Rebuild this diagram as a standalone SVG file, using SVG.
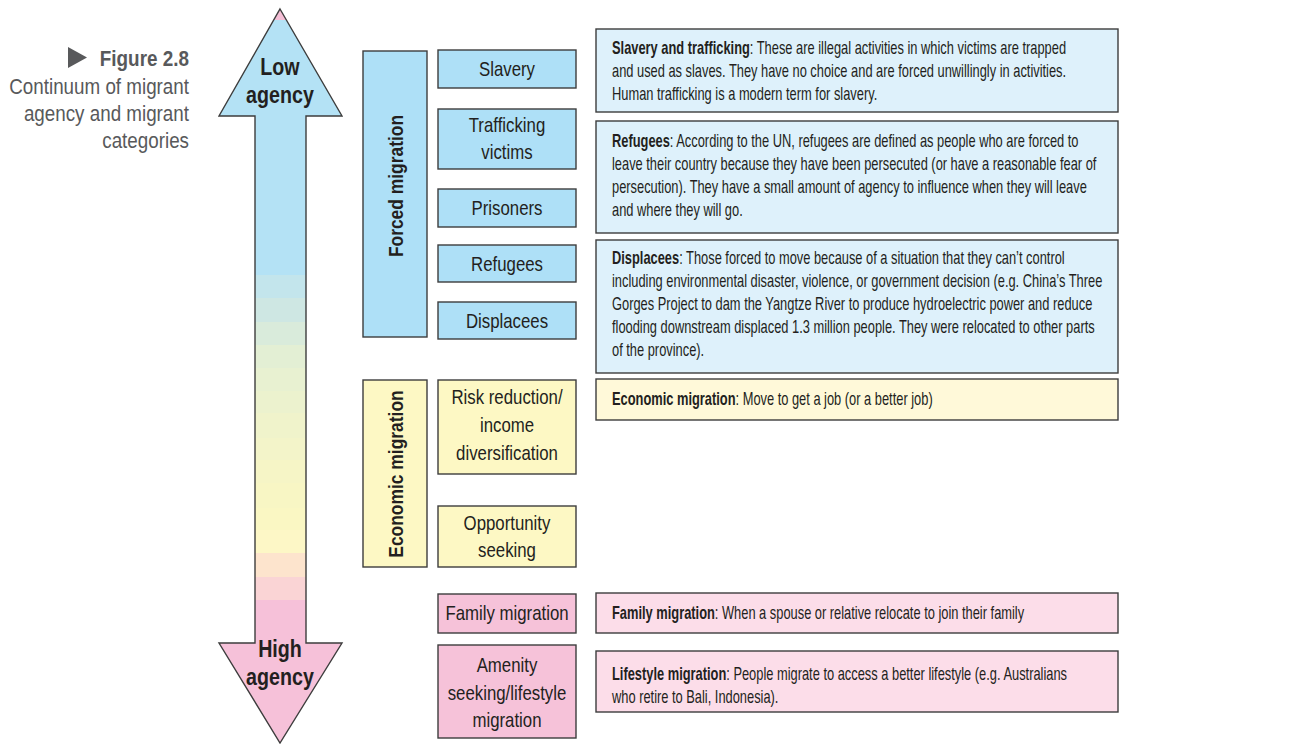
<svg xmlns="http://www.w3.org/2000/svg" width="1289" height="744" viewBox="0 0 1289 744">
<defs>
<style>
text{font-family:"Liberation Sans",Arial,sans-serif;fill:#231f20}
.cap{fill:#58595b;font-size:22px;text-anchor:end}
.capb{fill:#58595b;font-size:22.5px;font-weight:bold;text-anchor:end}
.box{stroke:#3d3d3d;stroke-width:1.4}
.bl{fill:#aee0f7}
.ye{fill:#fdf8c4}
.pk{fill:#f6c2d9}
.dbl{fill:#def1fb}
.dye{fill:#fff9d9}
.dpk{fill:#fcdde9}
.lbl{font-size:20.5px;text-anchor:middle}
.vt{font-size:21px;font-weight:bold;text-anchor:middle}
.ag{font-size:24px;font-weight:bold;text-anchor:middle}
.ds{font-size:17.5px}
.b{font-weight:bold}
</style>
<clipPath id="arrowClip">
<polygon points="280,9 342,116 306,116 306,643 342,643 280,743 219,643 255,643 255,116 219,116"/>
</clipPath>
</defs>

<g id="caption">
<polygon points="68,47 87,57.5 68,68" fill="#58595b"/>
<text class="capb" transform="matrix(0.84 0 0 1 189 66)">Figure 2.8</text>
<text class="cap" transform="matrix(0.855 0 0 1 189 94)">Continuum of migrant</text>
<text class="cap" transform="matrix(0.855 0 0 1 189 121)">agency and migrant</text>
<text class="cap" transform="matrix(0.855 0 0 1 189 148)">categories</text>
</g>

<g id="agency-arrow">
<g clip-path="url(#arrowClip)">
<rect x="200" y="0" width="160" height="20" fill="#f5bfd6"/>
<rect x="200" y="20" width="160" height="255" fill="#b4e2f5"/>
<rect x="200" y="275" width="160" height="23" fill="#c3e5ec"/>
<rect x="200" y="298" width="160" height="24" fill="#cee7e3"/>
<rect x="200" y="322" width="160" height="23" fill="#d9ebdb"/>
<rect x="200" y="345" width="160" height="23" fill="#e3efd4"/>
<rect x="200" y="368" width="160" height="23" fill="#e8f1d1"/>
<rect x="200" y="391" width="160" height="22" fill="#ecf2ce"/>
<rect x="200" y="413" width="160" height="25" fill="#f0f3cb"/>
<rect x="200" y="438" width="160" height="22" fill="#f3f4c9"/>
<rect x="200" y="460" width="160" height="23" fill="#f6f5c6"/>
<rect x="200" y="483" width="160" height="25" fill="#f8f6c4"/>
<rect x="200" y="508" width="160" height="22" fill="#faf7c3"/>
<rect x="200" y="530" width="160" height="23" fill="#fdf7c6"/>
<rect x="200" y="553" width="160" height="24" fill="#fde4cd"/>
<rect x="200" y="577" width="160" height="23" fill="#fad4d5"/>
<rect x="200" y="600" width="160" height="144" fill="#f6c1d9"/>
</g>
<polygon points="280,9 342,116 306,116 306,643 342,643 280,743 219,643 255,643 255,116 219,116" fill="none" stroke="#3d3d3d" stroke-width="1.4"/>
<text class="ag" transform="matrix(0.82 0 0 1 280 75)">Low</text>
<text class="ag" transform="matrix(0.82 0 0 1 280 103)">agency</text>
<text class="ag" transform="matrix(0.82 0 0 1 280 657)">High</text>
<text class="ag" transform="matrix(0.82 0 0 1 280 685)">agency</text>
</g>

<g id="forced-migration">
<rect class="box bl" x="363" y="51" width="64" height="286"/>
<text class="vt" transform="matrix(0 -0.83 1 0 403 186)">Forced migration</text>
</g>
<g id="economic-migration">
<rect class="box ye" x="363" y="380" width="64" height="187"/>
<text class="vt" transform="matrix(0 -0.83 1 0 403 474)">Economic migration</text>
</g>

<g id="slavery">
<rect class="box bl" x="438" y="50" width="138" height="38"/>
<text class="lbl" transform="matrix(0.82 0 0 1 507 76)">Slavery</text>
</g>
<g id="trafficking">
<rect class="box bl" x="438" y="109" width="138" height="60"/>
<text class="lbl" transform="matrix(0.82 0 0 1 507 132)">Trafficking</text>
<text class="lbl" transform="matrix(0.82 0 0 1 507 159)">victims</text>
</g>
<g id="prisoners">
<rect class="box bl" x="438" y="189" width="138" height="38"/>
<text class="lbl" transform="matrix(0.82 0 0 1 507 215)">Prisoners</text>
</g>
<g id="refugees">
<rect class="box bl" x="438" y="245" width="138" height="37"/>
<text class="lbl" transform="matrix(0.82 0 0 1 507 271)">Refugees</text>
</g>
<g id="displacees">
<rect class="box bl" x="438" y="302" width="138" height="37"/>
<text class="lbl" transform="matrix(0.82 0 0 1 507 328)">Displacees</text>
</g>
<g id="risk-reduction">
<rect class="box ye" x="438" y="380" width="138" height="94"/>
<text class="lbl" transform="matrix(0.82 0 0 1 507 404)">Risk reduction/</text>
<text class="lbl" transform="matrix(0.82 0 0 1 507 432)">income</text>
<text class="lbl" transform="matrix(0.82 0 0 1 507 460)">diversification</text>
</g>
<g id="opportunity">
<rect class="box ye" x="438" y="506" width="138" height="61"/>
<text class="lbl" transform="matrix(0.82 0 0 1 507 530)">Opportunity</text>
<text class="lbl" transform="matrix(0.82 0 0 1 507 557)">seeking</text>
</g>
<g id="family">
<rect class="box pk" x="438" y="594" width="138" height="39"/>
<text class="lbl" transform="matrix(0.82 0 0 1 507 620)">Family migration</text>
</g>
<g id="amenity">
<rect class="box pk" x="438" y="645" width="138" height="93"/>
<text class="lbl" transform="matrix(0.82 0 0 1 507 672)">Amenity</text>
<text class="lbl" transform="matrix(0.82 0 0 1 507 700)">seeking/lifestyle</text>
<text class="lbl" transform="matrix(0.82 0 0 1 507 727)">migration</text>
</g>

<g id="desc-slavery">
<rect class="box dbl" x="596" y="29" width="522" height="83"/>
<text class="ds" transform="matrix(0.735 0 0 1 612 54)"><tspan class="b">Slavery and trafficking</tspan>: These are illegal activities in which victims are trapped</text>
<text class="ds" transform="matrix(0.735 0 0 1 612 77)">and used as slaves. They have no choice and are forced unwillingly in activities.</text>
<text class="ds" transform="matrix(0.735 0 0 1 612 100)">Human trafficking is a modern term for slavery.</text>
</g>
<g id="desc-refugees">
<rect class="box dbl" x="596" y="121" width="522" height="112"/>
<text class="ds" transform="matrix(0.735 0 0 1 612 147)"><tspan class="b">Refugees</tspan>: According to the UN, refugees are defined as people who are forced to</text>
<text class="ds" transform="matrix(0.735 0 0 1 612 170)">leave their country because they have been persecuted (or have a reasonable fear of</text>
<text class="ds" transform="matrix(0.735 0 0 1 612 193)">persecution). They have a small amount of agency to influence when they will leave</text>
<text class="ds" transform="matrix(0.735 0 0 1 612 216)">and where they will go.</text>
</g>
<g id="desc-displacees">
<rect class="box dbl" x="596" y="240" width="522" height="133"/>
<text class="ds" transform="matrix(0.735 0 0 1 612 264)"><tspan class="b">Displacees</tspan>: Those forced to move because of a situation that they can’t control</text>
<text class="ds" transform="matrix(0.735 0 0 1 612 287)">including environmental disaster, violence, or government decision (e.g. China’s Three</text>
<text class="ds" transform="matrix(0.735 0 0 1 612 310)">Gorges Project to dam the Yangtze River to produce hydroelectric power and reduce</text>
<text class="ds" transform="matrix(0.735 0 0 1 612 333)">flooding downstream displaced 1.3 million people. They were relocated to other parts</text>
<text class="ds" transform="matrix(0.735 0 0 1 612 356)">of the province).</text>
</g>
<g id="desc-economic">
<rect class="box dye" x="596" y="379" width="522" height="41"/>
<text class="ds" transform="matrix(0.735 0 0 1 612 405)"><tspan class="b">Economic migration</tspan>: Move to get a job (or a better job)</text>
</g>
<g id="desc-family">
<rect class="box dpk" x="596" y="593" width="522" height="40"/>
<text class="ds" transform="matrix(0.735 0 0 1 612 619)"><tspan class="b">Family migration</tspan>: When a spouse or relative relocate to join their family</text>
</g>
<g id="desc-lifestyle">
<rect class="box dpk" x="596" y="651" width="522" height="61"/>
<text class="ds" transform="matrix(0.735 0 0 1 612 680)"><tspan class="b">Lifestyle migration</tspan>: People migrate to access a better lifestyle (e.g. Australians</text>
<text class="ds" transform="matrix(0.735 0 0 1 612 703)">who retire to Bali, Indonesia).</text>
</g>
</svg>
